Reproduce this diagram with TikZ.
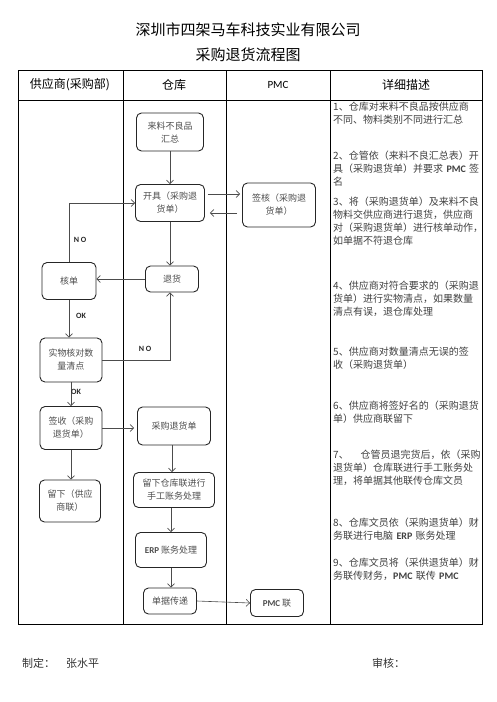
\documentclass[tikz,border=0pt]{standalone}
\usepackage{fontspec}
\setmainfont{Noto Sans CJK SC}
\newfontfamily\lat{Carlito}
\usetikzlibrary{arrows.meta}
\begin{document}
\begin{tikzpicture}[x=1pt,y=-1pt,
  box/.style={draw=black!85, line width=0.9pt, rounded corners=5pt, inner sep=0pt, align=center,
     text=black!70, font=\fontsize{9}{13}\selectfont},
  arr/.style={draw=black!70, line width=0.6pt, -{Straight Barb[length=3.5pt,width=7pt]}},
  lab/.style={font=\lat\bfseries\fontsize{8}{9}\selectfont, text=black!85, inner sep=0pt},
  desc/.style={anchor=north west, inner sep=0pt, text width=152pt, align=left, text=black!75,
     font=\fontsize{10}{13}\selectfont},
  grid/.style={line width=0.9pt, draw=black}]
\useasboundingbox (0,0) rectangle (496,702);
% titles
\node (t1) at (248,30) {\fontsize{15}{16}\selectfont 深圳市四架马车科技实业有限公司};
\node (t2) at (248,55) {\fontsize{15}{16}\selectfont 采购退货流程图};
% table
\draw[grid] (18,70) rectangle (482,624);
\draw[grid] (18,100) -- (482,100);
\draw[grid] (123,70) -- (123,624);
\draw[grid] (226,70) -- (226,624);
\draw[grid] (330,70) -- (330,624);
\node (h1) at (70,85) {\fontsize{12}{13}\selectfont 供应商(采购部)};
\node (h2) at (174,85) {\fontsize{12}{13}\selectfont 仓库};
\node (h3) at (278,85) {\lat\fontsize{11}{13}\selectfont PMC};
\node (h4) at (406,85) {\fontsize{12}{13}\selectfont 详细描述};
% nodes
\node[box, minimum width=67pt, minimum height=38pt] (ll) at (170,132) {来料不良品\\汇总};
\node[box, minimum width=69pt, minimum height=37pt] (kj) at (170,203) {开具（采购退\\货单）};
\node[box, minimum width=73pt, minimum height=44pt] (qh) at (279,205) {签核（采购退\\货单）};
\node[box, minimum width=54pt, minimum height=37pt] (hd) at (69,281) {核单};
\node[box, minimum width=53pt, minimum height=26pt] (th) at (172,279) {退货};
\node[box, minimum width=62pt, minimum height=44pt] (sw) at (71,360) {实物核对数\\量清点};
\node[box, minimum width=62pt, minimum height=43pt] (qs) at (71,428) {签收（采购\\退货单）};
\node[box, minimum width=73pt, minimum height=38pt] (cg) at (174,426) {采购退货单};
\node[box, minimum width=61pt, minimum height=42pt] (lx) at (70,501) {留下（供应\\商联）};
\node[box, minimum width=81pt, minimum height=35pt] (ck) at (174,490) {留下仓库联进行\\手工账务处理};
\node[box, minimum width=71pt, minimum height=35pt] (erp) at (171,550) {{\lat\bfseries ERP} 账务处理};
\node[box, minimum width=53pt, minimum height=26pt] (dj) at (170,601) {单据传递};
\node[box, minimum width=53pt, minimum height=27pt] (pm) at (277,603) {{\lat\bfseries PMC} 联};
% helper coordinates
\coordinate (k1) at ([yshift=9pt,xshift=3pt]kj.east);
\coordinate (k2) at ([xshift=5pt,yshift=-10pt]kj.east);
\coordinate (q1) at ([xshift=-2pt]qh.west);
\coordinate (q2) at ([xshift=-5pt]qh.west);
% arrows
\draw[arr] (ll.south) -- (kj.north);
\draw[arr] (k1) -- (q1 |- k1);
\draw[arr] (q2 |- k2) -- (k2);
\draw[arr] (kj.south) -- (kj.south |- th.north);
\draw[arr] (th.west) -- (hd.east |- th.west);
\draw[arr] (hd.north) |- (kj.west);
\draw[arr] (hd.south) -- (hd.south |- sw.north);
\draw[arr] (sw.east) -| ([xshift=-2pt]th.south);
\draw[arr] (sw.south) -- (sw.south |- qs.north);
\draw[arr] (qs.east) -- ([xshift=-3pt]cg.west |- qs.east);
\draw[arr] (qs.south) -- (qs.south |- lx.north);
\draw[arr] ([xshift=-2pt]cg.south) -- ([xshift=-2pt]cg.south |- ck.north);
\draw[arr] (erp.north |- ck.south) -- (erp.north);
\draw[arr] (erp.south) -- (erp.south |- dj.north);
\draw[arr] (dj.east) -- (pm.west);
% labels
\node[lab] (no1) at (80,240) {N O};
\node[lab] (ok1) at (81,316) {OK};
\node[lab] (no2) at (145,349) {N O};
\node[lab] (ok2) at (76,392) {OK};
% description
\node[desc] (d1) at (333,102) {1、仓库对来料不良品按供应商\\不同、物料类别不同进行汇总};
\node[desc] (d2) at (333,151) {2、仓管依（来料不良汇总表）开\\具（采购退货单）并要求 {\lat\bfseries PMC} 签\\名};
\node[desc] (d3) at (333,197) {3、将（采购退货单）及来料不良\\物料交供应商进行退货，供应商\\对（采购退货单）进行核单动作，\\如单据不符退仓库};
\node[desc] (d4) at (333,281) {4、供应商对符合要求的（采购退\\货单）进行实物清点，如果数量\\清点有误，退仓库处理};
\node[desc] (d5) at (333,347) {5、供应商对数量清点无误的签\\收（采购退货单）};
\node[desc] (d6) at (333,401) {6、供应商将签好名的（采购退货\\单）供应商联留下};
\node[desc] (d7) at (333,450) {7、\hspace{1.2em}仓管员退完货后，依（采购\\退货单）仓库联进行手工账务处\\理，将单据其他联传仓库文员};
\node[desc] (d8) at (333,518) {8、仓库文员依（采购退货单）财\\务联进行电脑 {\lat\bfseries ERP} 账务处理};
\node[desc] (d9) at (333,558) {9、仓库文员将（采供退货单）财\\务联传财务，{\lat\bfseries PMC} 联传 {\lat\bfseries PMC}};
% footer
\node[anchor=west, inner sep=0pt, text=black!80] (f1) at (22,663) {\fontsize{11}{12}\selectfont 制定：\hspace{1em}张水平};
\node[anchor=west, inner sep=0pt, text=black!80] (f2) at (372,663) {\fontsize{11}{12}\selectfont 审核：};
\end{tikzpicture}
\end{document}
